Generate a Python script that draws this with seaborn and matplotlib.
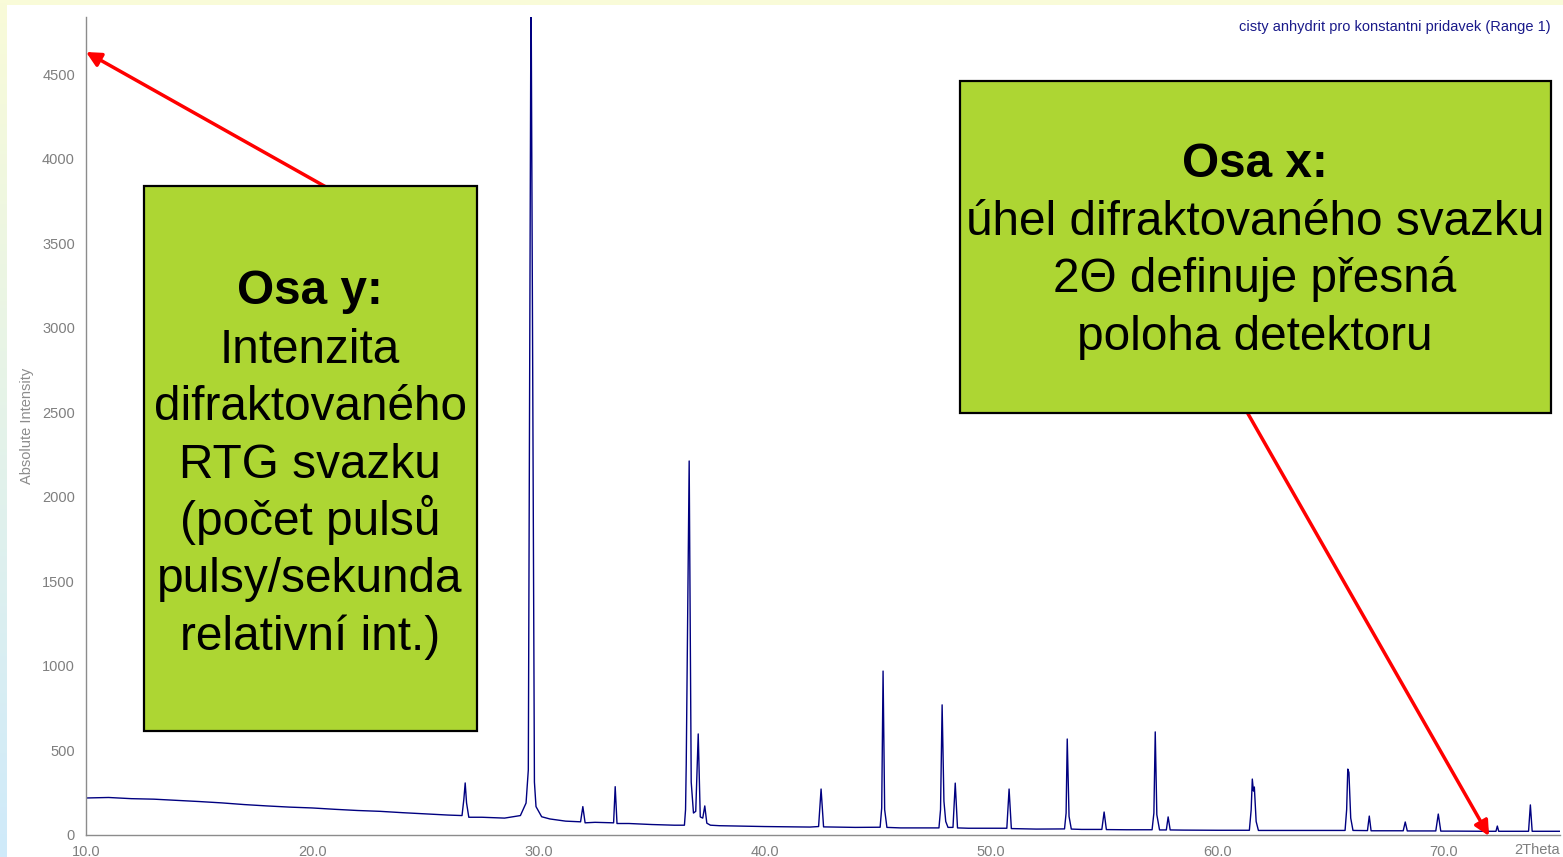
import numpy as np
import pandas as pd
import matplotlib
matplotlib.use("Agg")
import matplotlib.pyplot as plt
import seaborn as sns
from matplotlib.patches import Rectangle, FancyArrowPatch
from matplotlib.ticker import MultipleLocator, FormatStrFormatter

# background of the diffractogram (2theta, counts)
bg_theta = [10, 11, 12, 13, 14, 15, 16, 17, 18, 19, 20, 21, 22, 23, 24, 25, 26,
            27.5, 28.5, 30.5, 31.2, 32.5, 34, 35, 36, 38, 40, 42, 44, 46, 49,
            52, 54, 56, 58.5, 60, 63, 67, 70.5, 71.3, 75.15]
bg_counts = [219, 222, 215, 212, 205, 198, 190, 180, 172, 165, 160, 152, 145,
             140, 132, 125, 118, 105, 100, 95, 82, 75, 68, 62, 58, 55, 50, 47,
             45, 42, 40, 35, 33, 31, 29, 28, 27, 25, 23, 22, 22]

# reflections: vertices of each peak
pk_theta = [26.62, 26.70, 26.76, 26.82, 26.92,
            29.20, 29.45, 29.55, 29.67, 29.82, 29.89, 30.14,
            31.86, 31.96, 32.06,
            33.32, 33.39, 33.47,
            36.45, 36.50, 36.53, 36.66, 36.75, 36.85, 36.95, 37.06, 37.15,
            37.26, 37.35, 37.44, 37.60,
            42.38, 42.49, 42.60,
            45.10, 45.17, 45.23, 45.30, 45.40,
            47.70, 47.77, 47.84, 47.92, 48.00, 48.10,
            48.32, 48.42, 48.52,
            50.70, 50.80, 50.90,
            53.25, 53.32, 53.37, 53.45, 53.55,
            54.90, 55.00, 55.10,
            57.12, 57.20, 57.26, 57.33, 57.45,
            57.75, 57.83, 57.92,
            61.42, 61.50, 61.55, 61.60, 61.64, 61.72, 61.82,
            65.65, 65.72, 65.77, 65.82, 65.90, 66.00,
            66.64, 66.72, 66.80,
            68.22, 68.31, 68.40,
            69.66, 69.77, 69.88,
            71.82, 71.89, 71.96,
            72.32, 72.38, 72.44,
            73.76, 73.84, 73.92]
pk_counts = [115, 210, 308, 190, 105,
             115, 189, 385, 5100, 313, 168, 108,
             78, 168, 72,
             72, 286, 68,
             58, 150, 420, 2213, 313, 130, 140, 598, 107,
             100, 172, 70, 58,
             50, 272, 48,
             46, 160, 970, 150, 45,
             42, 150, 770, 200, 80, 45,
             45, 307, 42,
             40, 272, 38,
             36, 130, 568, 110, 35,
             33, 136, 32,
             31, 130, 610, 120, 30,
             30, 107, 30,
             28, 150, 331, 260, 284, 80, 27,
             27, 150, 390, 370, 100, 27,
             26, 112, 25,
             25, 77, 24,
             24, 124, 23,
             22, 100, 22,
             22, 53, 22,
             22, 178, 22]

y_ticks = [0, 500, 1000, 1500, 2000, 2500, 3000, 3500, 4000, 4500]
x_ticks = [10, 20, 30, 40, 50, 60, 70]

title = "cisty anhydrit pro konstantni pridavek (Range 1)"
box_y = ["Intenzita", "difraktovaného", "RTG svazku", "(počet pulsů",
         "pulsy/sekunda", "relativní int.)"]
box_x = ["úhel difraktovaného svazku", "2\u0398 definuje přesná",
         "poloha detektoru"]

df = pd.concat([pd.DataFrame({"theta": bg_theta, "counts": bg_counts}),
                pd.DataFrame({"theta": pk_theta, "counts": pk_counts})])
df = df.sort_values("theta")

sns.set_style("white")
plt.rcParams["font.family"] = ["Liberation Sans", "DejaVu Sans"]

W, H = 1563, 857
fig = plt.figure(figsize=(W / 100, H / 100), dpi=100)
fig.patch.set_facecolor("#F9FBD8")

# slide background: white panel + gradient strip on the left
bg_ax = fig.add_axes([0, 0, 1, 1], zorder=0)
bg_ax.set_xlim(0, W)
bg_ax.set_ylim(H, 0)
bg_ax.axis("off")
grad = np.linspace(0, 1, 256).reshape(-1, 1)
cmap = matplotlib.colors.LinearSegmentedColormap.from_list("g", ["#F9FBD8", "#CFEAFA"])
bg_ax.imshow(grad, cmap=cmap, extent=[0, 7, H, 0], aspect="auto")
bg_ax.add_patch(Rectangle((7, 5), W - 7, H - 5, facecolor="white", edgecolor="none"))

ax = fig.add_axes([86 / W, 1 - 835 / H, (1560 - 86) / W, (835 - 17) / H], zorder=1)
ax.patch.set_alpha(0)
sns.lineplot(data=df, x="theta", y="counts", ax=ax, color="#000080",
             linewidth=1.0, estimator=None, sort=True)
ax.set_xlim(10, 75.15)
ax.set_ylim(0, 4840)
ax.set_xticks(x_ticks)
ax.set_yticks(y_ticks)
ax.xaxis.set_major_formatter(FormatStrFormatter("%.1f"))
ax.xaxis.set_minor_locator(MultipleLocator(2))
ax.yaxis.set_minor_locator(MultipleLocator(100))
for s in ["top", "right"]:
    ax.spines[s].set_visible(False)
for s in ["left", "bottom"]:
    ax.spines[s].set_color("#8C8C8C")
    ax.spines[s].set_linewidth(1.0)
ax.tick_params(axis="both", which="both", direction="out", colors="#8C8C8C",
               labelcolor="#7F7F7F", labelsize=10.5, width=0.8)
ax.tick_params(axis="y", which="both", length=4, pad=4)
ax.tick_params(axis="x", which="both", length=5, pad=2)
ax.set_xlabel("")
ax.set_ylabel("Absolute Intensity", color="#8C8C8C", fontsize=10.5, labelpad=6)

# overlay in pixel coordinates for title, arrows and boxes
ov = fig.add_axes([0, 0, 1, 1], zorder=2)
ov.set_xlim(0, W)
ov.set_ylim(H, 0)
ov.axis("off")
ov.patch.set_alpha(0)

ov.text(1551, 27, title, ha="right", va="center", color="#1A1A8A", fontsize=10.5)
ov.text(1560, 850, "2Theta", ha="right", va="center", color="#7F7F7F", fontsize=10.5)

for tail, head in [((326, 187), (86, 52)), ((1247, 412), (1489, 836))]:
    ov.add_patch(FancyArrowPatch(tail, head, arrowstyle="-|>", mutation_scale=22,
                                 color="#FF0000", lw=2.5, shrinkA=0, shrinkB=0))

green = "#ADD633"
ov.add_patch(Rectangle((144, 186), 333, 545, facecolor=green, edgecolor="black", lw=1.6))
ov.add_patch(Rectangle((960, 81), 591, 332, facecolor=green, edgecolor="black", lw=1.6))

fs = 34.4
ov.text(310, 304, "Osa y:", ha="center", va="baseline", fontsize=fs,
        fontweight="bold", color="black")
for i, line in enumerate(box_y):
    ov.text(310, 362.5 + i * 57.5, line, ha="center", va="baseline",
            fontsize=fs, color="black")

ov.text(1255, 177, "Osa x:", ha="center", va="baseline", fontsize=fs,
        fontweight="bold", color="black")
for i, line in enumerate(box_x):
    ov.text(1255, 235 + i * 57.5, line, ha="center", va="baseline",
            fontsize=fs, color="black")

fig.savefig("out.png", dpi=100)
